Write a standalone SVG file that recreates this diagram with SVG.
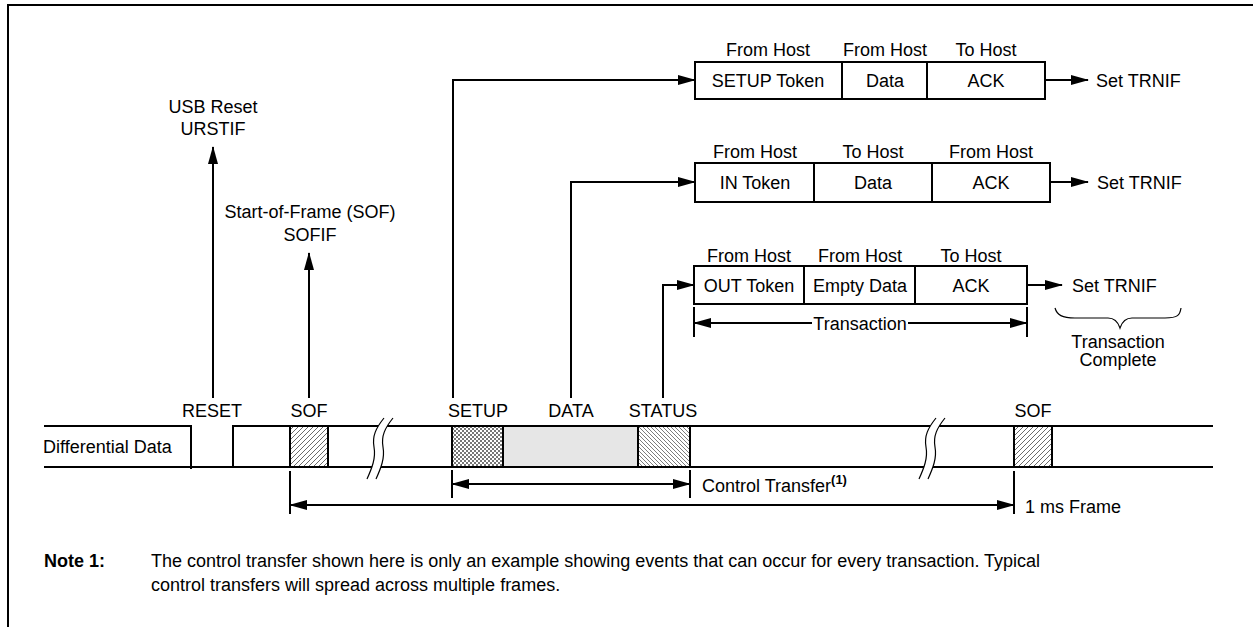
<svg xmlns="http://www.w3.org/2000/svg" width="1253" height="627" viewBox="0 0 1253 627">
<style>
text{font-family:"Liberation Sans",Arial,sans-serif;font-size:18px;fill:#000}
.m{text-anchor:middle}
.b{font-weight:bold}
.ln{fill:none;stroke:#000;stroke-width:2}
.thin{fill:none;stroke:#000;stroke-width:1.2}
.box{fill:#fff;stroke:#000;stroke-width:2}
.arr{fill:none;stroke:#000;stroke-width:2;marker-end:url(#ah)}
.dim{fill:none;stroke:#000;stroke-width:2}
</style>
<defs>
<marker id="ah" viewBox="0 0 18 10" markerWidth="18" markerHeight="10" refX="17" refY="5" orient="auto-start-reverse" markerUnits="userSpaceOnUse">
<path d="M0,0 L18,5 L0,10 z" fill="#000"/>
</marker>
<pattern id="hf" width="5" height="5" patternUnits="userSpaceOnUse">
<rect width="5" height="5" fill="#fff"/>
<path d="M-1,1 L1,-1 M0,5 L5,0 M4,6 L6,4" stroke="#444" stroke-width="0.8"/>
</pattern>
<pattern id="hb" width="4" height="4" patternUnits="userSpaceOnUse">
<rect width="4" height="4" fill="#fff"/>
<path d="M-1,3 L1,5 M0,0 L4,4 M3,-1 L5,1" stroke="#444" stroke-width="0.7"/>
</pattern>
<pattern id="ck" width="4" height="4" patternUnits="userSpaceOnUse">
<rect width="4" height="4" fill="#fff"/>
<rect width="2" height="2" fill="#777"/>
<rect x="2" y="2" width="2" height="2" fill="#777"/>
</pattern>
</defs>

<path id="border" class="ln" d="M8,627 V5 H1253"/>

<g id="signal">
<path class="ln" d="M44,426 H191 V469"/>
<path class="ln" d="M233,467 V426 H1213"/>
<path class="ln" d="M44,467 H1213"/>
<rect x="290" y="426" width="38" height="41" fill="url(#hf)" stroke="#000" stroke-width="2"/>
<rect x="452" y="426" width="51" height="41" fill="url(#ck)" stroke="#000" stroke-width="2"/>
<rect x="503" y="426" width="135" height="41" fill="#e6e6e6" stroke="#000" stroke-width="2"/>
<rect x="638" y="426" width="52" height="41" fill="url(#hb)" stroke="#000" stroke-width="2"/>
<rect x="1014" y="426" width="38" height="41" fill="url(#hf)" stroke="#000" stroke-width="2"/>
<text x="43" y="453">Differential Data</text>
</g>

<g id="break1">
<path d="M384,418 C376,428 372,436 374,447 C376,458 372,468 367,479 L376,479 C381,468 385,458 383,447 C381,436 385,428 393,418 z" fill="#fff" stroke="none"/>
<path class="thin" d="M384,418 C376,428 372,436 374,447 C376,458 372,468 367,479"/>
<path class="thin" d="M393,418 C385,428 381,436 383,447 C385,458 381,468 376,479"/>
</g>
<g id="break2">
<path d="M936,418 C928,428 924,436 926,447 C928,458 924,468 919,479 L928,479 C933,468 937,458 935,447 C933,436 937,428 945,418 z" fill="#fff" stroke="none"/>
<path class="thin" d="M936,418 C928,428 924,436 926,447 C928,458 924,468 919,479"/>
<path class="thin" d="M945,418 C937,428 933,436 935,447 C937,458 933,468 928,479"/>
</g>

<g id="signal-labels">
<text class="m" x="212" y="417">RESET</text>
<text class="m" x="309" y="417">SOF</text>
<text class="m" x="478" y="417">SETUP</text>
<text class="m" x="571" y="417">DATA</text>
<text class="m" x="663" y="417">STATUS</text>
<text class="m" x="1033" y="417">SOF</text>
</g>

<g id="urstif">
<text class="m" x="213" y="113">USB Reset</text>
<text class="m" x="213" y="135">URSTIF</text>
</g>
<g id="sofif">
<text class="m" x="310" y="218">Start-of-Frame (SOF)</text>
<text class="m" x="310" y="241">SOFIF</text>
</g>

<g id="setup-transaction">
<rect class="box" x="695" y="62" width="350" height="37"/>
<path class="ln" d="M842,62 V99 M927,62 V99"/>
<text class="m" x="768" y="56">From Host</text>
<text class="m" x="885" y="56">From Host</text>
<text class="m" x="986" y="56">To Host</text>
<text class="m" x="768" y="87">SETUP Token</text>
<text class="m" x="885" y="87">Data</text>
<text class="m" x="986" y="87">ACK</text>
<text x="1096" y="87">Set TRNIF</text>
</g>

<g id="in-transaction">
<rect class="box" x="695" y="163" width="355" height="39"/>
<path class="ln" d="M814,163 V202 M932,163 V202"/>
<text class="m" x="755" y="158">From Host</text>
<text class="m" x="873" y="158">To Host</text>
<text class="m" x="991" y="158">From Host</text>
<text class="m" x="755" y="189">IN Token</text>
<text class="m" x="873" y="189">Data</text>
<text class="m" x="991" y="189">ACK</text>
<text x="1097" y="189">Set TRNIF</text>
</g>

<g id="out-transaction">
<rect class="box" x="694" y="266" width="333" height="38"/>
<path class="ln" d="M804,266 V304 M915,266 V304"/>
<text class="m" x="749" y="262">From Host</text>
<text class="m" x="860" y="262">From Host</text>
<text class="m" x="971" y="262">To Host</text>
<text class="m" x="749" y="292">OUT Token</text>
<text class="m" x="860" y="292">Empty Data</text>
<text class="m" x="971" y="292">ACK</text>
<text x="1072" y="292">Set TRNIF</text>
</g>

<g id="transaction-complete">
<path class="thin" d="M1055,308 C1057,315 1062,318 1075,318 L1108,318 C1114,318 1118,322 1120,328 C1122,322 1126,318 1132,318 L1165,318 C1178,318 1180,315 1181,308"/>
<text class="m" x="1118" y="348">Transaction</text>
<text class="m" x="1118" y="366">Complete</text>
</g>

<g id="connectors">
<path class="arr" d="M213,398 V147"/>
<path class="arr" d="M309,398 V253"/>
<path class="arr" d="M453,398 V80 H695"/>
<path class="arr" d="M571,398 V182 H695"/>
<path class="arr" d="M663,398 V285 H694"/>
<path class="arr" d="M1045,80 H1088"/>
<path class="arr" d="M1050,182 H1088"/>
<path class="arr" d="M1027,285 H1062"/>
</g>

<g id="dimensions">
<path class="dim" d="M694,307 V337 M1027,307 V337"/>
<path class="dim" d="M694,323 H812" marker-start="url(#ah)"/>
<path class="dim" d="M908,323 H1027" marker-end="url(#ah)"/>
<text class="m" x="860" y="330">Transaction</text>
<path class="dim" d="M452,470 V498 M690,470 V498"/>
<path class="dim" d="M452,484 H690" marker-start="url(#ah)" marker-end="url(#ah)"/>
<text x="702" y="492">Control Transfer<tspan class="b" font-size="13" dy="-8">(1)</tspan></text>
<path class="dim" d="M290,471 V514 M1014,471 V514"/>
<path class="dim" d="M290,505 H1014" marker-start="url(#ah)" marker-end="url(#ah)"/>
<text x="1025" y="513">1 ms Frame</text>
</g>

<g id="note">
<text class="b" x="44" y="567">Note 1:</text>
<text x="151" y="567">The control transfer shown here is only an example showing events that can occur for every transaction. Typical</text>
<text x="151" y="591">control transfers will spread across multiple frames.</text>
</g>
</svg>
